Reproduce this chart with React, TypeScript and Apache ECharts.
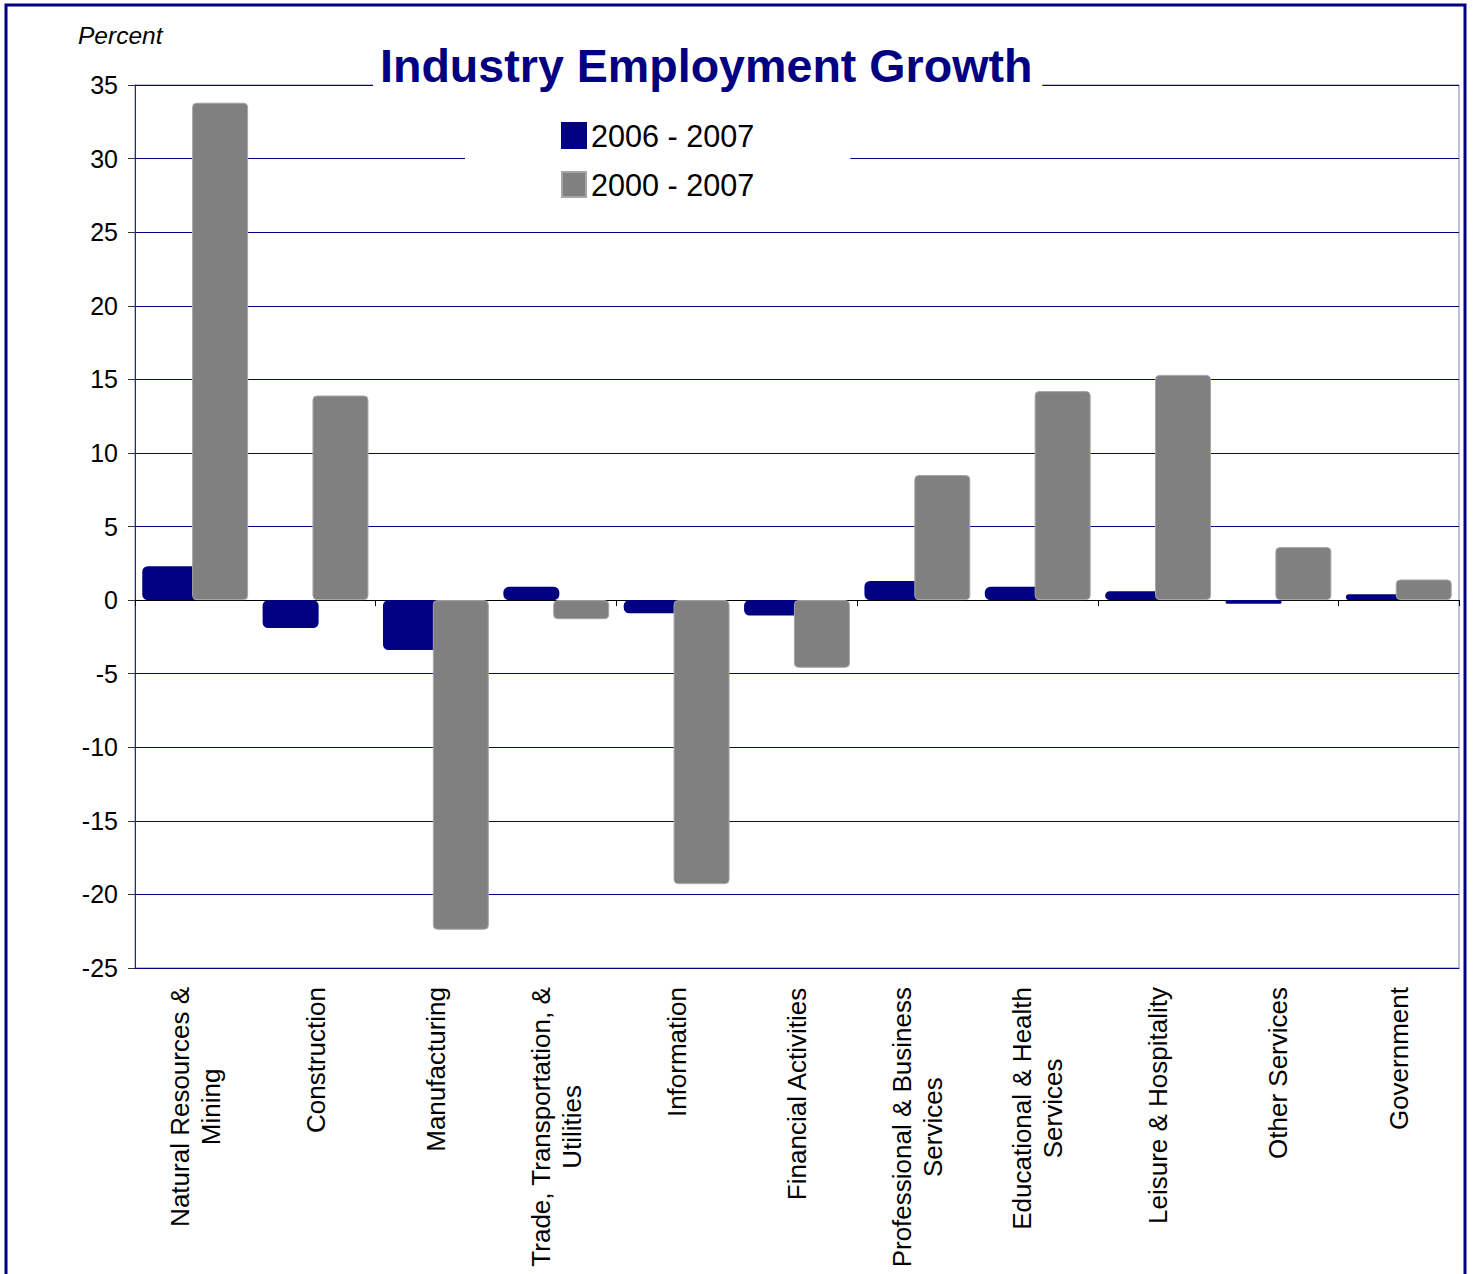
import React, { useEffect, useRef } from "react";
import * as echarts from "echarts";

const categories = [
  "Natural Resources &\nMining",
  "Construction",
  "Manufacturing",
  "Trade, Transportation, &\nUtilities",
  "Information",
  "Financial Activities",
  "Professional & Business\nServices",
  "Educational & Health\nServices",
  "Leisure & Hospitality",
  "Other Services",
  "Government",
];
const seriesNames = ["2006 - 2007", "2000 - 2007"];
const growth2006to2007 = [2.3, -1.9, -3.4, 0.9, -0.9, -1.05, 1.3, 0.9, 0.6, -0.25, 0.4];
const growth2000to2007 = [33.8, 13.9, -22.4, -1.3, -19.3, -4.6, 8.5, 14.2, 15.3, 3.6, 1.4];
const yMin = -25;
const yMax = 35;
const yStep = 5;
const titleText = "Industry Employment Growth";
const unitText = "Percent";

const FONT = "Arial, 'Liberation Sans', sans-serif";

export default function App() {
  const ref = useRef<HTMLDivElement>(null);
  useEffect(() => {
    document.body.style.margin = "0";
    if (!ref.current) return;
    const chart = echarts.init(ref.current, undefined, { renderer: "svg" });
    chart.setOption({
      animation: false,
      backgroundColor: "#ffffff",
      textStyle: { fontFamily: FONT },
      title: {
        text: titleText,
        left: 373,
        top: 38,
        padding: [4, 10, 4, 7],
        backgroundColor: "#ffffff",
        textStyle: { fontFamily: FONT, fontSize: 46.6, fontWeight: "bold", color: "#000080" },
      },
      legend: {
        left: 465,
        top: 110,
        orient: "vertical",
        padding: [10, 96, 10, 96],
        backgroundColor: "#ffffff",
        itemWidth: 24,
        itemHeight: 25,
        itemGap: 18,
        icon: "rect",
        textStyle: { fontFamily: FONT, fontSize: 30.6, color: "#000000" },
        data: seriesNames,
      },
      grid: {
        left: 135,
        top: 85,
        right: 14,
        bottom: 306,
        show: true,
        borderColor: "#8080c0",
        borderWidth: 1,
        backgroundColor: "transparent",
      },
      xAxis: [
        {
          type: "category",
          data: categories,
          position: "bottom",
          axisLine: { show: true, onZero: false, lineStyle: { color: "#000080", width: 1 } },
          axisTick: { show: false },
          axisLabel: {
            interval: 0,
            rotate: 90,
            margin: 19,
            formatter: (v: string) =>
              v
                .split("\n")
                .map((l) => `{c|${l}}`)
                .join("\n"),
            rich: {
              c: {
                align: "center",
                fontFamily: FONT,
                fontSize: 26,
                lineHeight: 31,
                color: "#000000",
              },
            },
          },
          splitLine: { show: false },
        },
        {
          type: "category",
          data: categories,
          position: "bottom",
          axisLine: { show: true, onZero: true, lineStyle: { color: "#000000", width: 1 } },
          axisTick: { show: true, inside: false, length: 6, lineStyle: { color: "#000000" } },
          axisLabel: { show: false },
          splitLine: { show: false },
        },
      ],
      yAxis: {
        type: "value",
        min: yMin,
        max: yMax,
        interval: yStep,
        axisLine: { show: true, lineStyle: { color: "#2e2e5e", width: 1 } },
        axisTick: { show: true, length: 7, lineStyle: { color: "#333333" } },
        axisLabel: { margin: 17, fontFamily: FONT, fontSize: 25, color: "#000000" },
        splitLine: { show: true, lineStyle: { color: "#000080", width: 1 } },
      },
      series: [
        {
          name: seriesNames[0],
          type: "bar",
          xAxisIndex: 0,
          data: growth2006to2007,
          barWidth: 56,
          barGap: "-11%",
          itemStyle: { color: "#000080", borderColor: "#000080", borderWidth: 3, borderRadius: 4 },
        },
        {
          name: seriesNames[1],
          type: "bar",
          xAxisIndex: 0,
          data: growth2000to2007,
          barWidth: 56,
          barGap: "-11%",
          itemStyle: { color: "#808080", borderColor: "#a6a6a6", borderWidth: 1, borderRadius: 4 },
        },
      ],
      graphic: [
        {
          type: "text",
          x: 78,
          y: 35,
          style: {
            text: unitText,
            font: `italic 24.5px ${FONT}`,
            fill: "#000000",
            verticalAlign: "middle",
          },
        },
        {
          type: "rect",
          silent: true,
          z: 100,
          shape: { x: 6, y: 5, width: 1459, height: 1300 },
          style: { fill: "none", stroke: "#000080", lineWidth: 3 },
        },
      ],
    });
    return () => chart.dispose();
  }, []);
  return <div ref={ref} style={{ width: 1473, height: 1274 }} />;
}
